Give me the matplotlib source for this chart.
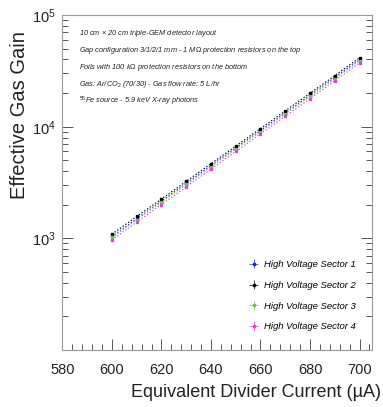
"""Effective gas gain vs equivalent divider current for a triple-GEM detector."""

import matplotlib

matplotlib.use("Agg")
import matplotlib.pyplot as plt
from matplotlib.ticker import FixedLocator, LogLocator, MultipleLocator, NullFormatter

plt.rcParams["font.family"] = ["Liberation Sans", "DejaVu Sans"]
plt.rcParams["mathtext.fontset"] = "custom"
plt.rcParams["mathtext.rm"] = "Liberation Sans"
plt.rcParams["mathtext.it"] = "Liberation Sans:italic"

# divider current (uA)
current = [600, 610, 620, 630, 640, 650, 660, 670, 680, 690, 700]

# gain per high-voltage sector
gain_s1 = [1040, 1500, 2160, 3110, 4480, 6450, 9250, 13300, 19100, 27600, 39800]
gain_s2 = [1090, 1570, 2250, 3240, 4660, 6700, 9620, 13850, 19900, 28700, 41400]
gain_s3 = [1020, 1470, 2110, 3040, 4380, 6300, 9050, 13000, 18700, 27000, 38900]
gain_s4 = [970, 1400, 2010, 2900, 4170, 6000, 8630, 12400, 17850, 25800, 37300]

sectors = [
    ("High Voltage Sector 1", gain_s1, "#2020ff"),
    ("High Voltage Sector 2", gain_s2, "#000000"),
    ("High Voltage Sector 3", gain_s3, "#66cc44"),
    ("High Voltage Sector 4", gain_s4, "#dd44dd"),
]

info_lines = [
    r"10 cm $\times$ 20 cm triple-GEM detector layout",
    r"Gap configuration 3/1/2/1 mm - 1 M$\Omega$ protection resistors on the top",
    r"Foils with 100 k$\Omega$ protection resistors on the bottom",
    r"Gas: Ar/CO$_2$ (70/30) - Gas flow rate: 5 L/hr",
    r"$^{55}$Fe source - 5.9 keV X-ray photons",
]

fig = plt.figure(figsize=(3.83, 4.07), dpi=100)
ax = fig.add_axes([0.163, 0.140, 0.808, 0.823])

for label, gain, color in sectors:
    ax.errorbar(
        current, gain,
        xerr=0.4, yerr=[g * 0.012 for g in gain],
        fmt="s", ms=1.8, color=color, ecolor=color, elinewidth=0.5,
        capsize=0, label=label,
    )
    ax.plot(current, gain, ":", color=color, lw=0.9)

ax.set_yscale("log")
ax.set_xlim(580, 705)
ax.set_ylim(100, 1e5)

ax.xaxis.set_major_locator(MultipleLocator(20))
ax.xaxis.set_minor_locator(MultipleLocator(4))
ax.yaxis.set_major_locator(FixedLocator([1e3, 1e4, 1e5]))
ax.yaxis.set_minor_locator(LogLocator(base=10, subs=range(2, 10), numticks=20))
ax.yaxis.set_minor_formatter(NullFormatter())

ax.tick_params(which="both", direction="in", right=True, top=False,
               colors="#555555", labelcolor="#222222", labelsize=10.5, width=0.7)
ax.tick_params(which="major", length=8, pad=5)
ax.tick_params(axis="x", which="major", pad=9)
ax.tick_params(which="minor", length=4)
for spine in ax.spines.values():
    spine.set_color("#999999")
    spine.set_linewidth(0.8)

ax.set_xlabel("Equivalent Divider Current (\u00b5A)", fontsize=13, color="#222222")
ax.xaxis.set_label_coords(1.028, -0.128)
ax.xaxis.label.set_horizontalalignment("right")
ax.xaxis.label.set_verticalalignment("center")
fig.text(0.052, 0.717, "Effective Gas Gain", rotation=90, fontsize=14.5,
         color="#222222", ha="center", va="center")

for i, line in enumerate(info_lines):
    ax.text(0.055, 0.945 - i * 0.051, line, transform=ax.transAxes,
            fontsize=5.3, style="italic", color="#222222", va="center")

leg = ax.legend(loc="lower right", bbox_to_anchor=(0.975, 0.03), frameon=False,
                fontsize=6.8, handlelength=1.2, handletextpad=0.5,
                labelspacing=1.25)
for text in leg.get_texts():
    text.set_fontstyle("italic")

fig.savefig("out.png", dpi=100)
